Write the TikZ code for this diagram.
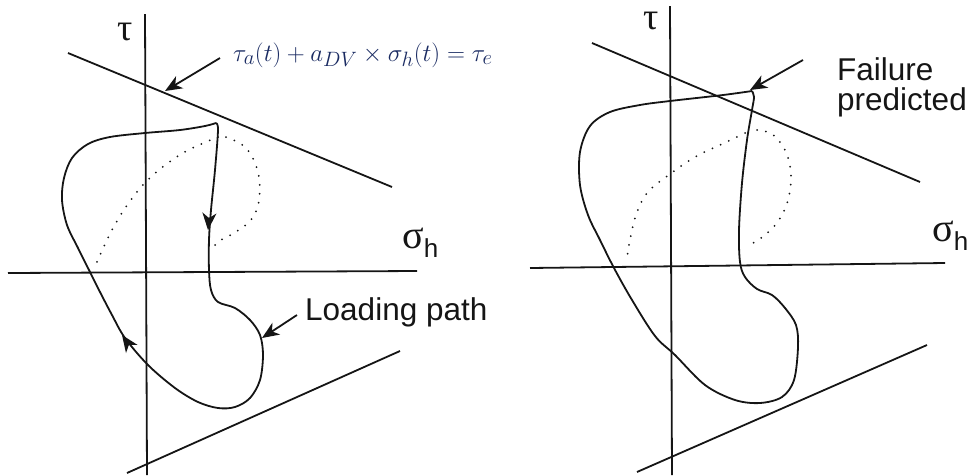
\documentclass[tikz,border=0pt]{standalone}
\usepackage{fontspec}
\usepackage{tikz}
\usetikzlibrary{arrows.meta,positioning,calc}
\setmainfont{Liberation Sans}
\newfontfamily\grk{Liberation Serif}
\definecolor{ink}{HTML}{151515}
\definecolor{eqc}{HTML}{1A2B62}
\newcommand{\sigh}{{\grk\fontsize{40}{40}\selectfont σ}\raisebox{-9pt}{\fontsize{26}{26}\selectfont h}}
\newcommand{\taulbl}{{\grk\fontsize{38}{38}\selectfont τ}}
\tikzset{
  ax/.style={draw=ink,line width=1.8pt},
  lim/.style={draw=ink,line width=1.8pt},
  lp/.style={draw=ink,line width=1.8pt,line join=round},
  dt/.style={draw=ink,line width=2pt,line cap=round,dash pattern=on 0pt off 9pt},
  ar/.style={-{Stealth[length=17pt,width=14pt,inset=5pt]},line width=1.8pt,draw=ink},
  tip/.style={-{Stealth[length=17pt,width=14pt,inset=5pt]},line width=1.8pt,draw=ink},
  lbl/.style={inner sep=0pt,text=ink,font=\fontsize{31.5}{30}\selectfont,align=left},
  sym/.style={inner sep=0pt,text=ink},
}

\begin{document}
\begin{tikzpicture}[x=1pt,y=-1pt]
\useasboundingbox (0,0) rectangle (977,475);

% left panel
\draw[ax] (145,14) -- (147,475);
\draw[ax] (8,273) -- (417,271);
\draw[lim] (68,53) -- (392,187);
\draw[lim] (127,473) -- (400,351);
\node[sym] (tauL) at (125,32) {\taulbl};
\node[sym,anchor=base west] (sigL) at (402,248) {\sigh};
\node[inner sep=0pt,anchor=base west,text=eqc,font=\fontsize{27.5}{27.5}\selectfont] (eq) at (233,61)
  {$\tau_a(t)+a_{DV}\times\sigma_h(t)=\tau_e$};
\coordinate (eqpt) at (165,91);
\draw[ar] ($(eq.base west)+(-13,-3)$) -- (eqpt);

\draw[lp] plot[smooth,tension=0.55] coordinates {
  (216,123) (218,130) (215,170) (211,210) (209,240) (209,270) (211,290) (218,302)
  (235,308) (250,320) (260,335) (263,355) (260,380) (250,398) (235,407) (218,408)
  (198,402) (175,388) (148,365) (125,338) (112,315) (100,292) (90,272) (78,248)
  (67,225) (62,200) (64,178) (72,158) (88,144) (110,137) (145,133) (180,130)
  (205,126) (216,123)};
\draw[dt] plot[smooth,tension=0.6] coordinates {
  (218,137) (183,153) (152,176) (130,201) (112,230) (97,262)};
\draw[dt] plot[smooth,tension=0.6] coordinates {
  (226,137) (246,148) (258,172) (259,200) (251,220) (234,233) (218,242) (211,252)};
\coordinate (dn) at (208,230);
\coordinate (up) at (122,335);
\draw[tip] ($(dn)+(1,-12)$) -- (dn);
\draw[tip] ($(up)+(7,10)$) -- (up);

\node[lbl,anchor=base west] (load) at (305,320) {Loading path};
\coordinate (lppt) at (262,338);
\draw[ar] ($(load.base west)+(-8,-5)$) -- (lppt);

% right panel
\draw[ax] (670,6) -- (672,475);
\draw[ax] (530,268) -- (945,263);
\draw[lim] (592,43) -- (920,182);
\draw[lim] (637,472) -- (927,345);
\node[sym] (tauR) at (651,21) {\taulbl};
\node[sym,anchor=base west] (sigR) at (932,241) {\sigh};

\draw[lp] plot[smooth,tension=0.55] coordinates {
  (752,91) (754,97) (752,110) (747,140) (742,183) (739,230) (740,262) (745,277)
  (757,289) (772,295) (785,308) (796,325) (798,347) (794,380) (782,397) (760,403)
  (735,400) (705,385) (675,355) (655,336) (632,300) (614,268) (600,240) (588,215)
  (580,185) (580,152) (590,126) (610,112) (640,105) (670,101) (723,95) (752,91)};
\draw[dt] plot[smooth,tension=0.6] coordinates {
  (745,133) (720,145) (695,157) (670,174) (648,192) (637,212) (631,235) (627,257)};
\draw[dt] plot[smooth,tension=0.6] coordinates {
  (757,130) (772,134) (785,150) (791,174) (788,200) (779,220) (765,235) (748,246)};

\node[lbl,anchor=north west] (fail) at (837,57) {Failure\\predicted};
\coordinate (failpt) at (750,90);
\draw[ar] ($(fail.north west)+(-34,3)$) -- (failpt);
\end{tikzpicture}
\end{document}
